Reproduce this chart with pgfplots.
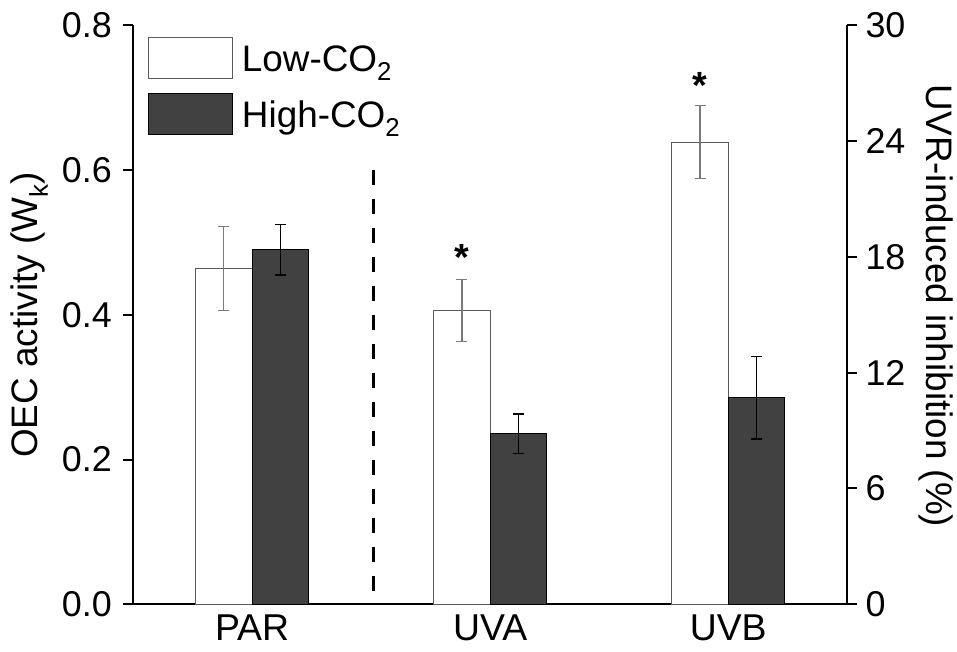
\documentclass[border=0pt]{standalone}
\usepackage{pgfplots}
\pgfplotsset{compat=1.18}
\usepackage{fontspec}
\setmainfont{Liberation Sans}
\definecolor{darkbar}{HTML}{414141}
\definecolor{lowedge}{HTML}{5A5A5A}
\definecolor{lowerr}{HTML}{7A7A7A}

\begin{document}
\begin{tikzpicture}
\pgfplotsset{
  common/.style={
    scale only axis, width=714.3bp, height=579bp,
    at={(0bp,0bp)}, anchor=south west,
    xmin=0.5, xmax=3.5,
    /pgf/number format/assume math mode=true,
    tick label style={font=\fontsize{36}{40}\selectfont, inner sep=0pt},
    label style={font=\fontsize{37}{42}\selectfont, inner sep=0pt},
    axis line style={line width=2bp},
    tick align=outside,
    major tick length=10bp,
    every tick/.style={line width=2bp, black},
    ybar, bar width=0.237,
    clip=false,
  },
  lowbar/.style={fill=white, draw=lowedge, line width=1bp, bar shift=-0.1185,
    /pgfplots/error bars/y dir=both, /pgfplots/error bars/y explicit,
    /pgfplots/error bars/error bar style={line width=1.2bp, lowerr},
    /pgfplots/error bars/error mark options={rotate=90, mark size=5.5bp, line width=1.2bp, lowerr}},
  highbar/.style={fill=darkbar, draw=black, line width=1bp, bar shift=0.1185,
    /pgfplots/error bars/y dir=both, /pgfplots/error bars/y explicit,
    /pgfplots/error bars/error bar style={line width=1.2bp, black},
    /pgfplots/error bars/error mark options={rotate=90, mark size=5.5bp, line width=1.2bp, black}},
}
\begin{axis}[common,
  axis y line*=left, axis x line*=bottom,
  ymin=0, ymax=0.8, ytick={0,0.2,0.4,0.6,0.8},
  yticklabel style={/pgf/number format/fixed, /pgf/number format/fixed zerofill, /pgf/number format/precision=1, /tikz/xshift=-11bp},
  xtick={1,2,3}, xticklabels={PAR,UVA,UVB},
  x tick style={draw=none},
  xticklabel style={yshift=0bp, font=\fontsize{37.5}{42}\selectfont},
  ylabel={OEC activity (W\textsubscript{k})},
  ylabel style={at={(axis description cs:-0.1449,0.5)}, anchor=center, rotate=0},
  legend style={at={(0.021,0.9798)}, anchor=north west, draw=none, fill=none,
    inner sep=0pt, outer sep=0pt, row sep=14.3bp, column sep=9bp,
    font=\fontsize{37}{42}\selectfont,
    nodes={inner sep=0pt, text height=33.7bp, text depth=7.3bp}},
  legend cell align=left,
]
\addplot[lowbar, /pgfplots/legend image code/.code={\draw[fill=white, draw=lowedge, line width=1bp] (0bp,-20.5bp) rectangle (84bp,20.5bp);}]
  coordinates {(1,0.464) +- (0,0.058)};
\addlegendentry{Low-CO\textsubscript{2}}
\addplot[highbar, /pgfplots/legend image code/.code={\draw[fill=darkbar, draw=black, line width=1bp] (0bp,-20.5bp) rectangle (84bp,20.5bp);}]
  coordinates {(1,0.490) +- (0,0.035)};
\addlegendentry{High-CO\textsubscript{2}}
\draw[line width=2.5bp, dash pattern=on 15bp off 14bp] (axis cs:1.51,0.6) -- (axis cs:1.51,0.012);
\end{axis}
\begin{axis}[common,
  axis y line*=right, axis x line=none,
  ymin=0, ymax=30, ytick={0,6,12,18,24,30},
  yticklabel style={xshift=8bp},
  ylabel={UVR-induced inhibition (\%)},
  ylabel style={at={(axis description cs:1.1239,0.515)}, anchor=center, rotate=180},
]
\addplot[lowbar] coordinates {(2,15.22) +- (0,1.59) (3,23.95) +- (0,1.89)};
\addplot[highbar] coordinates {(2,8.84) +- (0,1.02) (3,10.69) +- (0,2.13)};
\node[anchor=base, inner sep=0pt, font=\fontsize{38}{42}\selectfont\bfseries] at (axis cs:1.8815,17.3) {*};
\node[anchor=base, inner sep=0pt, font=\fontsize{38}{42}\selectfont\bfseries] at (axis cs:2.8815,26.2) {*};
\end{axis}
\pgfresetboundingbox
\path (-133bp,-47.7bp) rectangle (824bp,604.3bp);
\end{tikzpicture}
\end{document}
